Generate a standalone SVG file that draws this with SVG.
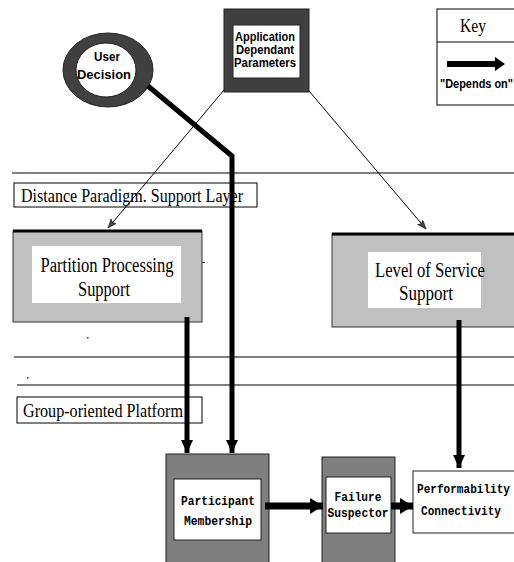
<svg xmlns="http://www.w3.org/2000/svg" width="514" height="562" viewBox="0 0 514 562">
<defs>
<style>
.serif{font-family:"Liberation Serif","Times New Roman",serif;fill:#000}
.sansb{font-family:"Liberation Sans",Arial,sans-serif;font-weight:bold;fill:#000}
.mono{font-family:"Liberation Mono","Courier New",monospace;font-weight:bold;fill:#000}
.thin{stroke:#000;stroke-width:1;fill:none}
.thick{stroke:#000;stroke-width:5;fill:none}
.layer{fill:#fff;stroke:#000;stroke-width:1}
.lgray{fill:#c0c0c0;stroke:#333;stroke-width:1}
.dgray{fill:#7f7f7f;stroke:#222;stroke-width:1}
.white{fill:#fff;stroke:#222;stroke-width:1}
</style>
<marker id="thinArrow" markerUnits="userSpaceOnUse" markerWidth="10" markerHeight="8" refX="9" refY="3.5" orient="auto">
<path d="M0,0 L9,3.5 L0,7 L2,3.5 Z" fill="#444" stroke="#000" stroke-width="0.5"/>
</marker>
<marker id="thickArrow" markerUnits="userSpaceOnUse" markerWidth="14" markerHeight="12" refX="13" refY="6" orient="auto">
<path d="M0,0 L13,6 L0,12 Z" fill="#000"/>
</marker>
<marker id="wideArrow" markerUnits="userSpaceOnUse" markerWidth="14" markerHeight="16" refX="13" refY="8" orient="auto">
<path d="M0,0 L13,8 L0,16 Z" fill="#000"/>
</marker>
</defs>
<rect width="514" height="562" fill="#fff"/>

<g id="layer-lines" stroke="#000" stroke-width="1">
<line x1="12" y1="173" x2="514" y2="173"/>
<line x1="14" y1="357" x2="514" y2="357"/>
<line x1="17" y1="385" x2="514" y2="385"/>
</g>
<g id="specks" fill="#333">
<rect x="87" y="337" width="1.5" height="1.5"/>
<rect x="27" y="377" width="1.5" height="1.5"/>
<rect x="202" y="262" width="3" height="1"/>
</g>

<g id="user-decision">
<ellipse cx="108" cy="70" rx="45" ry="37" fill="#404040" stroke="#222"/>
<ellipse cx="106" cy="70" rx="30" ry="27" fill="#fff" stroke="#222"/>
<text class="sansb" x="107" y="61" font-size="13" text-anchor="middle" textLength="26" lengthAdjust="spacingAndGlyphs">User</text>
<text class="sansb" x="104" y="79" font-size="13" text-anchor="middle" textLength="54" lengthAdjust="spacingAndGlyphs">Decision</text>
</g>

<g id="app-params">
<rect x="224" y="9" width="85" height="83" fill="#404040" stroke="#222"/>
<rect x="233" y="25" width="67" height="53" fill="#fff" stroke="#222"/>
<text class="sansb" x="265" y="41" font-size="12" text-anchor="middle" textLength="60" lengthAdjust="spacingAndGlyphs">Application</text>
<text class="sansb" x="265" y="54" font-size="12" text-anchor="middle" textLength="58" lengthAdjust="spacingAndGlyphs">Dependant</text>
<text class="sansb" x="265" y="67" font-size="12" text-anchor="middle" textLength="62" lengthAdjust="spacingAndGlyphs">Parameters</text>
</g>

<g id="key">
<rect x="437" y="9" width="80" height="96" fill="#fff" stroke="#000"/>
<line x1="437" y1="42" x2="517" y2="42" stroke="#000"/>
<text class="serif" x="473" y="32" font-size="18" text-anchor="middle" textLength="26" lengthAdjust="spacingAndGlyphs">Key</text>
<line x1="447" y1="64" x2="496" y2="64" stroke="#000" stroke-width="6"/>
<path d="M495,57 L505,64 L495,71 Z" fill="#000"/>
<text class="sansb" x="440" y="88" font-size="12.5" textLength="73" lengthAdjust="spacingAndGlyphs">"Depends on"</text>
</g>

<g id="distance-layer">
<rect class="layer" x="14" y="183" width="243" height="24"/>
<text class="serif" x="21" y="202" font-size="19" textLength="222" lengthAdjust="spacingAndGlyphs">Distance Paradigm. Support Layer</text>
</g>

<g id="partition">
<rect class="lgray" x="13" y="231" width="189" height="91"/>
<line x1="13" y1="231" x2="202" y2="231" stroke="#000" stroke-width="3"/>
<rect x="32" y="246" width="149" height="57" fill="#fff"/>
<text class="serif" x="107" y="272" font-size="20" text-anchor="middle" textLength="133" lengthAdjust="spacingAndGlyphs">Partition Processing</text>
<text class="serif" x="104" y="296" font-size="20" text-anchor="middle" textLength="52" lengthAdjust="spacingAndGlyphs">Support</text>
</g>

<g id="level-of-service">
<rect class="lgray" x="332" y="234" width="184" height="93"/>
<line x1="332" y1="234" x2="516" y2="234" stroke="#000" stroke-width="3"/>
<rect x="368" y="252" width="113" height="56" fill="#fff"/>
<text class="serif" x="430" y="277" font-size="20" text-anchor="middle" textLength="110" lengthAdjust="spacingAndGlyphs">Level of Service</text>
<text class="serif" x="426" y="300" font-size="20" text-anchor="middle" textLength="54" lengthAdjust="spacingAndGlyphs">Support</text>
</g>

<g id="group-platform">
<rect class="layer" x="17" y="397" width="185" height="26"/>
<text class="serif" x="23" y="417" font-size="19" textLength="160" lengthAdjust="spacingAndGlyphs">Group-oriented Platform</text>
</g>

<g id="participant">
<rect class="dgray" x="166" y="454" width="103" height="112"/>
<rect class="white" x="174" y="479" width="87" height="61"/>
<text class="mono" x="218" y="505" font-size="13" text-anchor="middle" textLength="74" lengthAdjust="spacingAndGlyphs">Participant</text>
<text class="mono" x="218" y="525" font-size="13" text-anchor="middle" textLength="68" lengthAdjust="spacingAndGlyphs">Membership</text>
</g>

<g id="failure">
<rect class="dgray" x="322" y="457" width="73" height="109"/>
<rect class="white" x="326" y="477" width="65" height="56"/>
<text class="mono" x="358" y="501" font-size="13" text-anchor="middle" textLength="47" lengthAdjust="spacingAndGlyphs">Failure</text>
<text class="mono" x="358" y="517" font-size="13" text-anchor="middle" textLength="61" lengthAdjust="spacingAndGlyphs">Suspector</text>
</g>

<g id="performability">
<rect class="white" x="413" y="471" width="103" height="62"/>
<text class="mono" x="417" y="493" font-size="13" textLength="93" lengthAdjust="spacingAndGlyphs">Performability</text>
<text class="mono" x="421" y="515" font-size="13" textLength="80" lengthAdjust="spacingAndGlyphs">Connectivity</text>
</g>

<g id="connectors">
<path class="thin" d="M224,90 L108,228" marker-end="url(#thinArrow)"/>
<path class="thin" d="M309,91 L426,229" marker-end="url(#thinArrow)"/>
<path class="thick" d="M148,86 L232,156 L232,453" stroke-linejoin="miter" marker-end="url(#thickArrow)"/>
<path class="thick" d="M187,317 L187,453" marker-end="url(#thickArrow)"/>
<path class="thick" d="M459,320 L459,468" marker-end="url(#thickArrow)"/>
<path d="M265,506 L323,506" stroke="#000" stroke-width="7" fill="none" marker-end="url(#wideArrow)"/>
<path d="M391,506 L413,506" stroke="#000" stroke-width="7" fill="none" marker-end="url(#wideArrow)"/>
</g>
</svg>
